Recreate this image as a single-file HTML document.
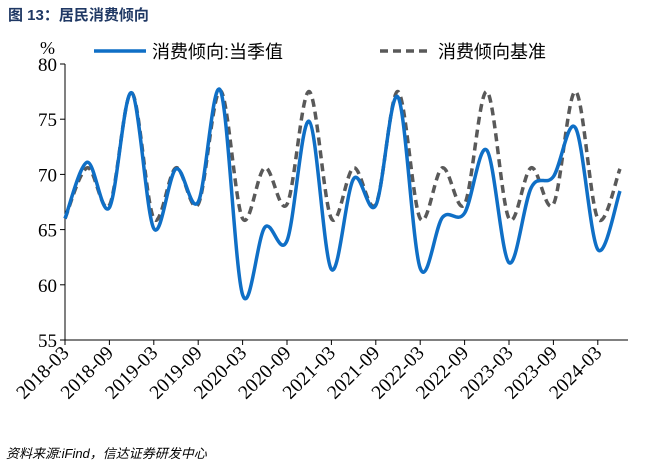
<!DOCTYPE html>
<html><head><meta charset="utf-8"><style>
body{margin:0;background:#fff;}
svg text{font-family:"Liberation Serif","Noto Serif CJK SC",serif;}
</style></head><body>
<svg width="656" height="468" viewBox="0 0 656 468">
<text x="8" y="20" font-size="15" font-weight="bold" fill="#1f3864" style="font-family:'Liberation Sans','Noto Sans CJK SC',sans-serif">图 13：居民消费倾向</text>
<text x="40" y="54" font-size="18" fill="#000">%</text>
<g>
<line x1="94" y1="51" x2="146" y2="51" stroke="#0f6fc6" stroke-width="3.5"/>
<text x="152" y="58" font-size="18" style="font-family:'Liberation Sans','Noto Sans CJK SC',sans-serif">消费倾向:当季值</text>
<line x1="380" y1="51" x2="432" y2="51" stroke="#595959" stroke-width="3.5" stroke-dasharray="8,5"/>
<text x="438" y="58" font-size="18" style="font-family:'Liberation Sans','Noto Sans CJK SC',sans-serif">消费倾向基准</text>
</g>
<g id="axes"></g>
<g id="series"></g>
<text x="6" y="458" font-size="13" font-style="italic" fill="#000" style="font-family:'Liberation Sans','Noto Sans CJK SC',sans-serif">资料来源:iFind，信达证券研发中心</text>
</svg>
<script>
const categories=["2018-03","2018-06","2018-09","2018-12","2019-03","2019-06","2019-09","2019-12","2020-03","2020-06","2020-09","2020-12","2021-03","2021-06","2021-09","2021-12","2022-03","2022-06","2022-09","2022-12","2023-03","2023-06","2023-09","2023-12","2024-03","2024-06"];
const actualValues=[66.0,71.1,67.0,77.4,65.1,70.5,67.5,77.6,59.1,65.2,64.0,74.8,61.4,69.6,67.2,77.0,61.5,66.1,66.5,72.2,62.0,68.8,69.8,74.2,63.2,68.5];
const baselineValues=[66.0,70.6,67.2,77.4,66.0,70.6,67.3,77.6,66.0,70.6,67.3,77.5,66.0,70.6,67.3,77.5,66.0,70.6,67.3,77.5,66.0,70.6,67.3,77.5,66.0,70.5];
const yTicks=[55,60,65,70,75,80];
const NS="http://www.w3.org/2000/svg";
const x0=65,dx=22.2,yTop=64,yBot=340,yMin=55,yMax=80;
const xs=i=>x0+i*dx;
const ys=v=>yBot-(v-yMin)/(yMax-yMin)*(yBot-yTop);
function mk(tag,attrs,parent){const e=document.createElementNS(NS,tag);for(const k in attrs)e.setAttribute(k,attrs[k]);parent.appendChild(e);return e;}
const ax=document.getElementById('axes');
const yl=mk('line',{x1:x0,y1:yTop,x2:x0,y2:yBot,stroke:'#000','stroke-width':1},ax);


const xl=mk('line',{x1:x0,y1:yBot,x2:628,y2:yBot,stroke:'#000','stroke-width':1},ax);


yTicks.forEach(t=>{
 mk('line',{x1:x0-5,y1:ys(t),x2:x0,y2:ys(t),stroke:'#000'},ax);
 const tx=mk('text',{x:x0-8,y:ys(t)+7,'font-size':19,'text-anchor':'end'},ax);
 tx.textContent=t;
 
 
});
categories.forEach((c,i)=>{
 if(i%2)return;
 const x=xs(i);
 mk('line',{x1:x,y1:yBot,x2:x,y2:yBot+5,stroke:'#000'},ax);
 const tx=mk('text',{x:x+5,y:yBot+14,'font-size':19.5,'text-anchor':'end',transform:`rotate(-45 ${x+5} ${yBot+14})`},ax);
 tx.textContent=c;
 
 
});
function smooth(vals){
 const p=vals.map((v,i)=>[xs(i),ys(v)]);
 let d=`M${p[0][0]},${p[0][1]}`;
 for(let i=0;i<p.length-1;i++){
  const a=p[i-1]||p[i],b=p[i],c=p[i+1],e=p[i+2]||c;
  d+=` C${b[0]+(c[0]-a[0])/6},${b[1]+(c[1]-a[1])/6} ${c[0]-(e[0]-b[0])/6},${c[1]-(e[1]-b[1])/6} ${c[0]},${c[1]}`;
 }
 return d;
}
const sg=document.getElementById('series');
const bl=mk('path',{d:smooth(baselineValues),fill:'none',stroke:'#595959','stroke-width':3.5,'stroke-dasharray':'8,5'},sg);


const al=mk('path',{d:smooth(actualValues),fill:'none',stroke:'#0f6fc6','stroke-width':3.5},sg);


</script>
</body></html>
